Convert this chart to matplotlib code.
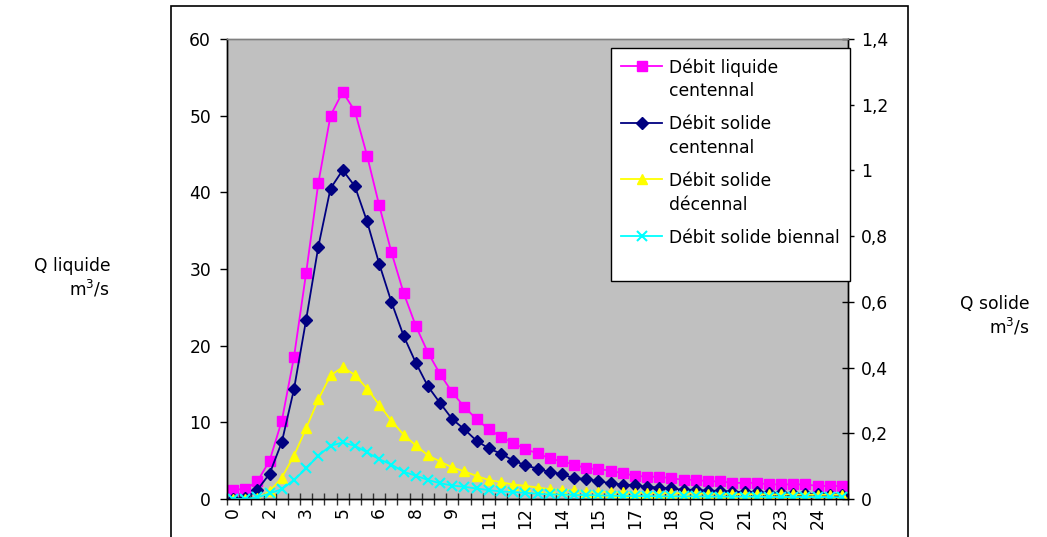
import matplotlib
matplotlib.use("Agg")
import matplotlib.pyplot as plt
from matplotlib.patches import Rectangle

# temps (h), un point toutes les demi-heures
heures = [0, 0.5, 1, 1.5, 2, 2.5, 3, 3.5, 4, 4.5, 5, 5.5, 6, 6.5, 7, 7.5, 8,
          8.5, 9, 9.5, 10, 10.5, 11, 11.5, 12, 12.5, 13, 13.5, 14, 14.5, 15,
          15.5, 16, 16.5, 17, 17.5, 18, 18.5, 19, 19.5, 20, 20.5, 21, 21.5,
          22, 22.5, 23, 23.5, 24, 24.5, 25]

# Q liquide (m3/s), axe de gauche
liquide_centennal = [1.2, 1.3, 2.3, 5.0, 10.2, 18.5, 29.5, 41.2, 50.0, 53.1,
                     50.6, 44.8, 38.3, 32.2, 26.9, 22.6, 19.1, 16.3, 13.9, 12.0,
                     10.4, 9.1, 8.1, 7.3, 6.5, 5.95, 5.3, 4.9, 4.5, 4.0, 3.9,
                     3.7, 3.35, 3.05, 2.9, 2.9, 2.7, 2.5, 2.5, 2.3, 2.3, 2.1,
                     2.1, 2.1, 1.9, 1.9, 1.9, 1.9, 1.7, 1.7, 1.7]

# Q solide (m3/s), axe de droite
solide_centennal = [0.0, 0.002, 0.028, 0.077, 0.173, 0.334, 0.546, 0.768,
                    0.945, 1.001, 0.952, 0.845, 0.716, 0.600, 0.497, 0.415,
                    0.343, 0.292, 0.243, 0.212, 0.177, 0.154, 0.138, 0.117,
                    0.103, 0.092, 0.082, 0.076, 0.063, 0.061, 0.054, 0.048,
                    0.044, 0.042, 0.037, 0.035, 0.032, 0.028, 0.028, 0.025,
                    0.025, 0.022, 0.021, 0.021, 0.018, 0.018, 0.015, 0.014,
                    0.014, 0.012, 0.011]

solide_decennal = [0.0, 0.0, 0.002, 0.023, 0.065, 0.132, 0.215, 0.303, 0.376,
                   0.401, 0.378, 0.336, 0.287, 0.238, 0.196, 0.163, 0.133,
                   0.114, 0.096, 0.084, 0.070, 0.058, 0.051, 0.044, 0.040,
                   0.035, 0.030, 0.028, 0.026, 0.022, 0.022, 0.021, 0.020,
                   0.019, 0.019, 0.018, 0.018, 0.017, 0.017, 0.016, 0.016,
                   0.015, 0.015, 0.015, 0.014, 0.014, 0.014, 0.013, 0.013,
                   0.013, 0.013]

solide_biennal = [0.0, 0.0, 0.005, 0.017, 0.030, 0.058, 0.093, 0.132, 0.162,
                  0.172, 0.162, 0.142, 0.121, 0.105, 0.083, 0.071, 0.058,
                  0.048, 0.041, 0.037, 0.032, 0.027, 0.023, 0.021, 0.019,
                  0.016, 0.014, 0.014, 0.012, 0.012, 0.011, 0.010, 0.009,
                  0.009, 0.009, 0.008, 0.008, 0.008, 0.008, 0.007, 0.007,
                  0.007, 0.007, 0.007, 0.006, 0.006, 0.006, 0.006, 0.006,
                  0.006, 0.005]

etiquettes_x = ["0", "2", "3", "5", "6", "8", "9", "11", "12", "14", "15",
                "17", "18", "20", "21", "23", "24"]
ticks_gauche = [0, 10, 20, 30, 40, 50, 60]
ticks_droite = [0, 0.2, 0.4, 0.6, 0.8, 1.0, 1.2, 1.4]
etiquettes_droite = ["0", "0,2", "0,4", "0,6", "0,8", "1", "1,2", "1,4"]

plt.rcParams["font.family"] = "DejaVu Sans"
plt.rcParams["font.size"] = 12.3

W, H = 1047, 537
fig = plt.figure(figsize=(W / 100, H / 100), dpi=100)
fig.patches.append(Rectangle((171 / W, -0.02), (908 - 171) / W, 1.02 - 6 / H,
                             transform=fig.transFigure, fill=False,
                             edgecolor="black", linewidth=1.2))

ax = fig.add_axes([227 / W, 1 - 499 / H, (848 - 227) / W, (499 - 39) / H])
ax.set_facecolor("#c0c0c0")
ax2 = ax.twinx()

x = list(range(len(heures)))
l1, = ax.plot(x, liquide_centennal, color="#ff00ff", lw=1.3, marker="s",
              ms=6.5, label="Débit liquide\ncentennal")
l2, = ax2.plot(x, solide_centennal, color="#000080", lw=1.3, marker="D",
               ms=6.3, label="Débit solide\ncentennal")
l3, = ax2.plot(x, solide_decennal, color="#ffff00", lw=1.3, marker="^",
               ms=7.5, label="Débit solide\ndécennal")
l4, = ax2.plot(x, solide_biennal, color="#00ffff", lw=1.3, marker="x",
               ms=7.5, mew=1.5, label="Débit solide biennal\n")

ax.set_xlim(-0.5, len(heures) - 0.5)
ax.set_ylim(0, 60)
ax2.set_ylim(0, 1.4)

ax.set_xticks([i - 0.5 for i in range(len(heures) + 1)], [])
ax.set_xticks(list(range(0, len(heures), 3)), etiquettes_x, minor=True)
ax.tick_params(axis="x", which="major", direction="inout", length=8.6,
               width=1, color="#333333")
ax.tick_params(axis="x", which="minor", length=0, rotation=90, pad=6)

ax.set_yticks(ticks_gauche)
ax.tick_params(axis="y", direction="out", length=5, width=1, pad=6.5)
ax2.set_yticks(ticks_droite, etiquettes_droite)
ax2.tick_params(axis="y", direction="inout", length=9, width=1, pad=5)

for a in (ax, ax2):
    a.spines["top"].set_color("#808080")
    a.spines["left"].set_color("black")
    a.spines["right"].set_color("black")
    a.spines["bottom"].set_color("black")
    for s in a.spines.values():
        s.set_linewidth(1)

leg = ax2.legend(handles=[l1, l2, l3, l4], loc="upper right",
                 bbox_to_anchor=(850 / W, 1 - 48 / H),
                 bbox_transform=fig.transFigure, fancybox=False,
                 framealpha=1, edgecolor="black", borderpad=0.6,
                 handlelength=2.4, handletextpad=0.4, labelspacing=0.88,
                 handleheight=1.2, borderaxespad=0)
leg.get_frame().set_linewidth(1)
for t in leg.get_texts():
    t.set_linespacing(1.4)
# aligne le symbole sur la premiere ligne du texte, comme Excel
for col in leg._legend_handle_box.get_children():
    for item in col.get_children():
        item.align = "top"

fig.text(110 / W, 1 - 278 / H, "Q liquide\nm$^3$/s", ha="right", va="center",
         multialignment="right")
fig.text(1030 / W, 1 - 316 / H, "Q solide\nm$^3$/s", ha="right", va="center",
         multialignment="right")

fig.savefig("out.png", dpi=100)
